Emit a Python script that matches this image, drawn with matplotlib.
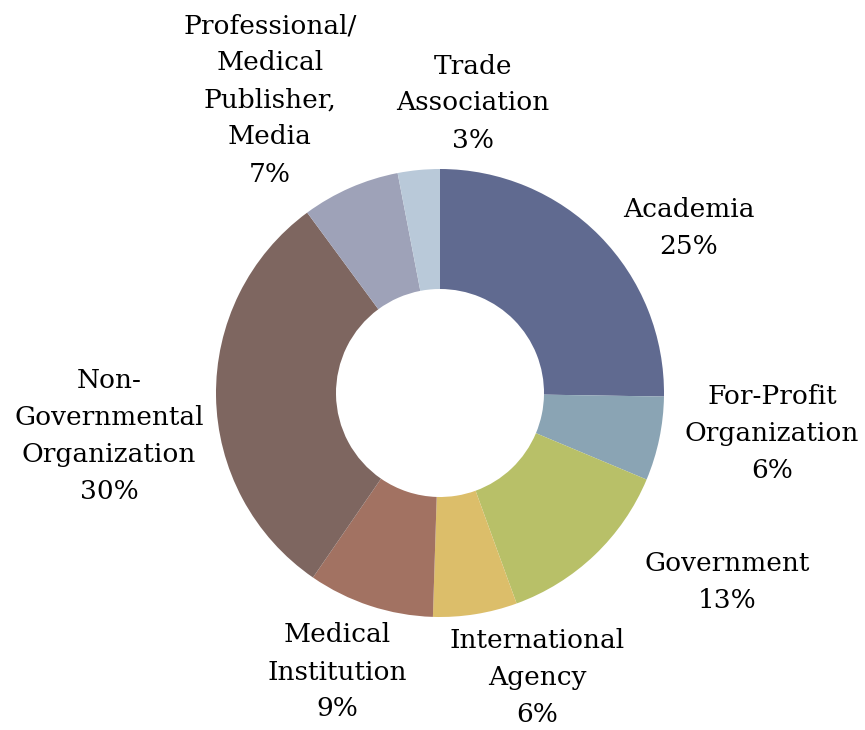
import matplotlib.pyplot as plt

labels = ['Academia\n25%', 'For-Profit\nOrganization\n6%', 'Government\n13%',
          'International\nAgency\n6%', 'Medical\nInstitution\n9%',
          'Non-\nGovernmental\nOrganization\n30%',
          'Professional/\nMedical\nPublisher,\nMedia\n7%', 'Trade\nAssociation\n3%']
shares = [25, 6, 13, 6, 9, 30, 7, 3]
colors = ['#606a90', '#8aa4b4', '#b8c068', '#dcbe6a', '#a27262', '#7e6660',
          '#9ea2b8', '#b9c9d9']

# label centres in pixels (x, y from top)
label_pos = [(689, 228), (772, 433), (727, 582), (537, 678), (337, 672),
             (109, 436), (270, 100), (473, 103)]

fig = plt.figure(figsize=(8.65, 7.30), dpi=100)
ax = fig.add_axes([0, 0, 1, 1])

cx, cy, r = 440, 393, 224
ax.pie(shares, colors=colors, startangle=90, counterclock=False,
       center=(cx, 730 - cy), radius=r, frame=True,
       wedgeprops=dict(width=r - 104, linewidth=0))
ax.set_xlim(0, 865)
ax.set_ylim(0, 730)
ax.axis('off')

for lab, (x, y) in zip(labels, label_pos):
    ax.text(x, 730 - y, lab, ha='center', va='center', fontsize=19,
            family='DejaVu Serif', linespacing=1.6)

fig.savefig('out.png', dpi=100)
